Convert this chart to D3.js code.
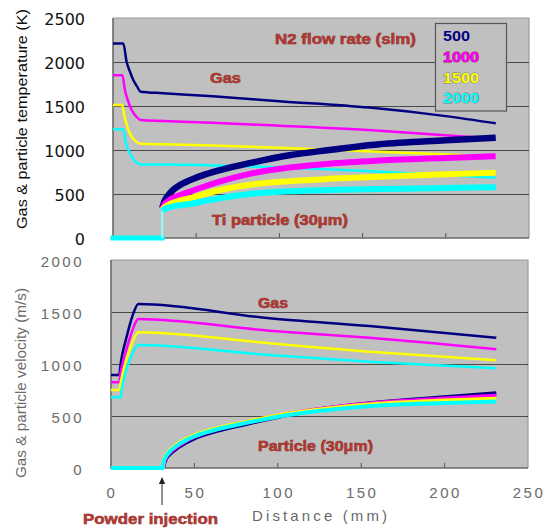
<!DOCTYPE html>
<html><head><meta charset="utf-8">
<script src="https://cdn.jsdelivr.net/npm/d3@7"></script>
<style>body{margin:0;background:#fff} svg{display:block}</style>
</head><body><svg id="c" width="549" height="529"></svg>
<script>
// ---------------- DATA ----------------
const flowRates = ["500", "1000", "1500", "2000"];
const xTicks = [0, 50, 100, 150, 200, 250];
const tempTicks = [0, 500, 1000, 1500, 2000, 2500];
const velTicks = [0, 500, 1000, 1500, 2000];

// Gas temperature (K) vs distance (mm)
const gasTemp500  = [[0,2210],[6.2,2210],[8.2,2000],[10,1900],[12.2,1795],[14.5,1720],[16.6,1662],[30,1645],[60,1610],[100,1555],[154,1482],[200,1385],[230,1303]];
const gasTemp1000 = [[0,1850],[5.6,1850],[7.2,1680],[9,1560],[11.2,1455],[14,1380],[16.6,1341],[30,1330],[60,1310],[100,1276],[160,1219],[206,1160],[230,1130]];
const gasTemp1500 = [[0,1510],[5.4,1510],[7.2,1360],[9,1240],[11.2,1151],[14,1095],[16.6,1070],[30,1065],[60,1050],[100,1025],[160,980],[230,925]];
const gasTemp2000 = [[0,1235],[6.2,1235],[7.8,1076],[9.5,990],[11.2,924],[14,860],[16.4,835],[30,835],[60,825],[100,805],[160,753],[230,685]];

// Ti particle temperature (K)
const partTempZero = [[0,0],[29.6,0]];
const partTemp500  = [[29.6,340],[31,420],[33,480],[36,545],[40,600],[46,655],[55,720],[65,775],[82,850],[106,940],[130,1000],[160,1065],[200,1110],[230,1140]];
const partTemp1000 = [[29.6,330],[31,385],[33,420],[36,455],[40,485],[46,526],[55,585],[65,645],[82,728],[106,800],[130,845],[160,880],[200,910],[230,928]];
const partTemp1500 = [[29.6,320],[31,350],[33,375],[36,400],[40,425],[46,451],[55,500],[65,548],[82,605],[106,645],[130,672],[160,697],[200,725],[230,742]];
const partTemp2000 = [[29.6,310],[31,330],[33,345],[36,360],[40,372],[46,386],[55,420],[65,455],[82,500],[106,530],[130,545],[160,556],[200,568],[230,577]];

// Gas velocity (m/s)
const gasVel500  = [[0,894],[5,894],[5.6,980],[7,1110],[9.4,1263],[11.5,1390],[13.4,1487],[16.4,1577],[95,1440],[155,1365],[231,1253]];
const gasVel1000 = [[0,824],[5,824],[5.6,900],[7,1010],[9.4,1150],[11.5,1260],[13.4,1350],[16.4,1433],[95,1320],[155,1252],[231,1141]];
const gasVel1500 = [[0,750],[5.2,750],[5.8,820],[7.2,920],[9.4,1050],[11.5,1150],[13.4,1230],[16.4,1305],[95,1199],[155,1118],[231,1035]];
const gasVel2000 = [[0,680],[5.8,680],[6.3,750],[7.5,840],[9.4,960],[11.5,1050],[13.4,1120],[16.4,1183],[95,1087],[155,1022],[231,959]];

// Particle velocity (m/s)
const partVel500  = [[0,0],[31,0],[32,50],[33,90],[35,130],[40,195],[45,245],[50,285],[63,355],[83,430],[107,515],[130,575],[160,630],[200,680],[231,720]];
const partVel1000 = [[0,0],[31,0],[32,60],[33,105],[35,145],[40,210],[45,260],[50,300],[63,370],[83,445],[107,525],[130,578],[160,628],[200,668],[231,695]];
const partVel1500 = [[0,0],[31,0],[31.5,70],[33,120],[35,165],[40,230],[45,278],[50,315],[63,380],[83,450],[107,525],[130,572],[160,618],[200,648],[231,665]];
const partVel2000 = [[0,0],[31,0],[31.5,60],[33,110],[35,155],[40,220],[45,268],[50,305],[63,370],[83,440],[107,512],[130,558],[160,600],[200,625],[231,640]];

// ---------------- DRAW ----------------
const colors = ["#000080", "#ff00ff", "#ffff00", "#00ffff"];
const svg = d3.select("#c");
const darkRed = "#b3362f";

const boxT = {l:113, r:529, t:18, b:238};
const boxB = {l:111, r:528, t:260, b:468};
const xT = d3.scaleLinear().domain([0,250]).range([boxT.l, boxT.r]);
const yT = d3.scaleLinear().domain([0,2500]).range([boxT.b, boxT.t]);
const xV = d3.scaleLinear().domain([0,250]).range([boxB.l, boxB.r]);
const yV = d3.scaleLinear().domain([0,2000]).range([boxB.b, boxB.t]);

function panelFrame(box, x, y, yTicks) {
  const g = svg.append("g");
  g.append("rect").attr("x", box.l).attr("y", box.t).attr("width", box.r - box.l).attr("height", box.b - box.t).attr("fill", "#c0c0c0");
  g.append("path").attr("d", `M${box.l},${box.t}H${box.r}V${box.b}`).attr("fill","none").attr("stroke","#9a9a9a").attr("stroke-width",1.2);
  const maxT = yTicks[yTicks.length-1];
  g.selectAll("line.grid").data(yTicks.filter(t => t > 0 && t < maxT)).join("line")
    .attr("x1", box.l).attr("x2", box.r).attr("y1", d => Math.round(y(d)) + 0.5).attr("y2", d => Math.round(y(d)) + 0.5)
    .attr("stroke", "#4a4a4a").attr("stroke-width", 1);
  g.selectAll("line.tick").data(xTicks.filter(t => t > 0 && t < 250)).join("line")
    .attr("x1", d => x(d)).attr("x2", d => x(d)).attr("y1", box.b).attr("y2", box.b - 5)
    .attr("stroke", "#555").attr("stroke-width", 1);
  g.append("path").attr("d", `M${box.l},${box.t}V${box.b}H${box.r}`).attr("fill","none").attr("stroke","#6a6a6a").attr("stroke-width",1.6);
  return g;
}

panelFrame(boxT, xT, yT, tempTicks);
panelFrame(boxB, xV, yV, velTicks);

const lineT = d3.line().x(d => xT(d[0])).y(d => yT(d[1])).curve(d3.curveMonotoneX);
const lineV = d3.line().x(d => xV(d[0])).y(d => yV(d[1])).curve(d3.curveMonotoneX);

[gasTemp500, gasTemp1000, gasTemp1500, gasTemp2000].forEach((s, i) => {
  svg.append("path").attr("d", lineT(s)).attr("fill","none").attr("stroke", colors[i]).attr("stroke-width", 2.5);
});
svg.append("path").attr("d", lineT(partTempZero)).attr("fill","none").attr("stroke", colors[3]).attr("stroke-width", 5).attr("stroke-linecap","square");
svg.append("line").attr("x1", xT(29.6)).attr("x2", xT(29.6)).attr("y1", yT(0)).attr("y2", yT(partTemp2000[0][1]))
  .attr("stroke", "#8ffcf6").attr("stroke-width", 2.2);
[partTemp500, partTemp1000, partTemp1500, partTemp2000].forEach((s, i) => {
  svg.append("path").attr("d", lineT(s)).attr("fill","none").attr("stroke", colors[i]).attr("stroke-width", i === 0 ? 6.5 : 6).attr("stroke-linecap","butt");
});

[gasVel500, gasVel1000, gasVel1500, gasVel2000].forEach((s, i) => {
  svg.append("path").attr("d", lineV(s)).attr("fill","none").attr("stroke", colors[i]).attr("stroke-width", 2.5);
});
[partVel500, partVel1000, partVel1500, partVel2000].forEach((s, i) => {
  svg.append("path").attr("d", lineV(s)).attr("fill","none").attr("stroke", colors[i]).attr("stroke-width", 4);
});

svg.append("g").selectAll("text").data(tempTicks).join("text")
  .attr("x", 85).attr("y", d => yT(d) + 1).attr("text-anchor","end").attr("dominant-baseline","central")
  .attr("font-family","DejaVu Sans").attr("font-size", 16).attr("fill","#111").text(d => d);

svg.append("g").selectAll("text").data(velTicks).join("text")
  .attr("x", 84).attr("y", d => yV(d) + 1).attr("text-anchor","end").attr("dominant-baseline","central")
  .attr("font-family","Liberation Sans").attr("font-size", 15).attr("letter-spacing", "2.5px").attr("fill","#6a6a6a").text(d => d);

svg.append("g").selectAll("text").data(xTicks).join("text")
  .attr("x", d => xV(d) + 1).attr("y", 498).attr("text-anchor","middle")
  .attr("font-family","Liberation Sans").attr("font-size", 15).attr("letter-spacing", "2.5px").attr("fill","#6a6a6a").text(d => d);

svg.append("text").attr("transform","translate(27,119) rotate(-90)").attr("text-anchor","middle")
  .attr("font-family","Liberation Sans").attr("font-size", 14.5).attr("fill","#111")
  .attr("textLength", 220).attr("lengthAdjust","spacingAndGlyphs")
  .text("Gas  & particle temperature (K)");
svg.append("text").attr("transform","translate(26,383) rotate(-90)").attr("text-anchor","middle")
  .attr("font-family","Liberation Sans").attr("font-size", 15).attr("fill","#6a6a6a")
  .attr("textLength", 190).attr("lengthAdjust","spacingAndGlyphs")
  .text("Gas & particle velocity (m/s)");
svg.append("text").attr("x", 252).attr("y", 521).attr("font-family","Liberation Sans").attr("font-size", 15).attr("fill","#6a6a6a")
  .attr("textLength", 135).attr("lengthAdjust","spacing").text("Distance (mm)");

function note(txt, x, y, w, size) {
  svg.append("text").attr("x", x).attr("y", y).attr("font-family","Liberation Sans").attr("font-weight","bold")
    .attr("font-size", size || 14).attr("fill", darkRed).attr("stroke","#6a1c18").attr("stroke-width",0.5)
    .attr("paint-order","stroke").attr("textLength", w).attr("lengthAdjust","spacingAndGlyphs").text(txt);
}
note("N2 flow rate (slm)", 275, 44, 141);
note("Gas", 210, 83, 31);
note("Ti particle (30μm)", 212, 225, 136);
note("Gas", 258, 308, 30);
note("Particle (30μm)", 258, 451, 115);
note("Powder injection", 83, 524, 135, 15);

svg.append("line").attr("x1", xV(30.6)).attr("x2", xV(30.6)).attr("y1", 505).attr("y2", 482).attr("stroke","#222").attr("stroke-width",1);
svg.append("path").attr("d", `M${xV(30.6)},477 l-3.2,7 h6.4 z`).attr("fill","#222");

const lg = svg.append("g");
lg.append("rect").attr("x", 435.5).attr("y", 23.5).attr("width", 71).attr("height", 87.5)
  .attr("fill","#c0c0c0").attr("stroke","#555").attr("stroke-width",1.2);
const legY = [41, 62, 83, 103];
const legW = [27, 36, 36, 36];
lg.selectAll("text").data(flowRates).join("text")
  .attr("x", 443).attr("y", (d,i) => legY[i])
  .attr("font-family","Liberation Sans").attr("font-weight","bold").attr("font-size", 14)
  .attr("fill", (d,i) => colors[i])
  .attr("stroke", (d,i) => i === 0 ? "none" : (i === 1 ? "#8a1040" : "#7a7a7a"))
  .attr("stroke-width", 0.8).attr("paint-order","stroke")
  .attr("textLength", (d,i) => legW[i]).attr("lengthAdjust","spacingAndGlyphs")
  .text(d => d);
</script></body></html>
